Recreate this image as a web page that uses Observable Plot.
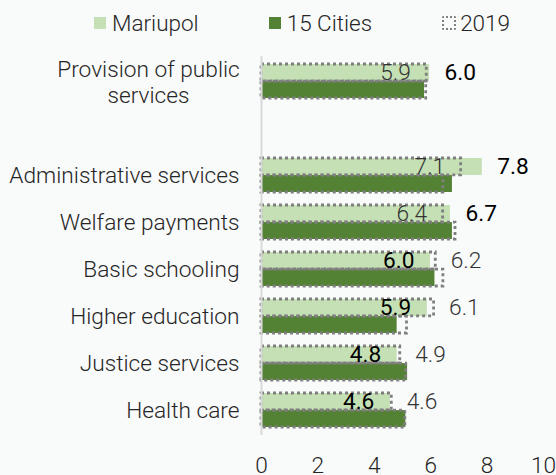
<!DOCTYPE html>
<html><head><meta charset="utf-8">
<script src="https://cdn.jsdelivr.net/npm/d3@7"></script>
<script src="https://cdn.jsdelivr.net/npm/@observablehq/plot@0.6"></script>
<style>
html,body{margin:0;padding:0;background:#f9fafa;}
body{font-family:Roboto,sans-serif;font-weight:300;color:#262626;width:556px;}
#legend{height:42px;display:flex;align-items:center;padding-left:94px;box-sizing:border-box;font-size:22.5px;line-height:22px;padding-top:4px;white-space:nowrap;}
.item{display:flex;align-items:center;margin-right:70px;flex-shrink:0;}
.item:last-child{margin-right:0;}
.sw{width:12px;height:12px;margin-right:6px;box-sizing:border-box;flex-shrink:0;}
</style></head><body>
<div id="legend"></div><div id="chart"></div>
<script>
const categories = ["Provision of public services", "Administrative services", "Welfare payments", "Basic schooling", "Higher education", "Justice services", "Health care"];
const mariupol     = [5.96, 7.83, 6.70, 5.99, 5.88, 4.81, 4.57];
const mariupol2019 = [5.86, 7.08, 6.44, 6.18, 6.12, 4.92, 4.62];
const cities       = [5.78, 6.77, 6.77, 6.15, 4.81, 5.18, 5.12];
const cities2019   = [5.84, 6.45, 6.88, 6.45, 5.16, 5.13, 5.10];
const xTicks = [0, 2, 4, 6, 8, 10];
const legendLabels = ["Mariupol", "15 Cities", "2019"];

const LIGHT = "#c5e0b4", DARK = "#548235", DOT = "#7f7f7f";
const FS = 22.7;

// legend
const leg = document.getElementById("legend");
const swStyles = [
  `background:${LIGHT}`,
  `background:${DARK}`,
  `border:2.5px dotted ${DOT};width:14px;height:14px;margin-right:4px;border-radius:2px`
];
legendLabels.forEach((t, i) => {
  const it = document.createElement("div");
  it.className = "item";
  it.innerHTML = `<span class="sw" style="${swStyles[i]}"></span><span>${t}</span>`;
  leg.appendChild(it);
});

const rows = categories.map((c, i) => ({
  category: c, m: mariupol[i], m19: mariupol2019[i], c: cities[i], c19: cities2019[i]
}));
const SPACER = "\u200b";
const yDomain = [categories[0], SPACER, ...categories.slice(1)];

const H = 433, MT = 14, MB = 40;
const padInner = 0.28;
const step = (H - MT - MB) / yDomain.length;
const half = step * (1 - padInner) / 2;

const fmt = v => v.toFixed(1);
const dotted = {fill: "none", stroke: DOT, strokeWidth: 2.8, strokeDasharray: "3,3"};

const chart = Plot.plot({
  width: 556, height: H,
  marginLeft: 261, marginRight: 13, marginTop: MT, marginBottom: MB,
  style: {background: "#f9fafa", fontFamily: "Roboto, sans-serif", fontSize: FS + "px", fontWeight: 300, color: "#262626"},
  x: {domain: [0, 10], label: null},
  y: {domain: yDomain, paddingInner: padInner, paddingOuter: padInner / 2, label: null},
  marks: [
    Plot.barX(rows, {x: "m", y: "category", fill: LIGHT, insetBottom: half}),
    Plot.barX(rows, {x: "c", y: "category", fill: DARK, insetTop: half}),
    Plot.barX(rows, {x: "m19", y: "category", ...dotted, insetBottom: half}),
    Plot.barX(rows, {x: "c19", y: "category", ...dotted, insetTop: half}),
    Plot.ruleX([0], {stroke: "#d9d9d9", strokeWidth: 2}),
    // bold (current Mariupol) labels
    Plot.text(rows, {filter: d => d.m >= d.m19, x: "m", y: "category", text: d => fmt(d.m), textAnchor: "start", dx: 15, dy: -half / 2, fill: "#000", fontSize: FS, fontWeight: 400}),
    Plot.text(rows, {filter: d => d.m < d.m19, x: "m", y: "category", text: d => fmt(d.m), textAnchor: "end", dx: -16, dy: -half / 2, fill: "#000", fontSize: FS, fontWeight: 400}),
    // gray (2019 Mariupol) labels
    Plot.text(rows, {filter: d => d.m19 > d.m, x: "m19", y: "category", text: d => fmt(d.m19), textAnchor: "start", dx: 15, dy: -half / 2, fill: "#333", fontSize: FS, fontWeight: 300}),
    Plot.text(rows, {filter: d => d.m19 <= d.m, x: "m19", y: "category", text: d => fmt(d.m19), textAnchor: "end", dx: -16, dy: -half / 2, fill: "#333", fontSize: FS, fontWeight: 300}),
    Plot.axisX({ticks: xTicks, tickSize: 0, tickPadding: 21, fontSize: FS, fill: "#262626", label: null}),
    Plot.axisY({tickSize: 0, tickPadding: 22, fontSize: FS, fill: "#262626", label: null,
      tickFormat: d => (d === categories[0] || d === SPACER) ? "" : d}),
    Plot.text([categories[0]], {y: d => d, text: () => "Provision of public\nservices", frameAnchor: "left", textAnchor: "middle", dx: -113, lineHeight: 1.17, fontSize: FS, fill: "#262626"})
  ]
});
document.getElementById("chart").appendChild(chart);
</script></body></html>
